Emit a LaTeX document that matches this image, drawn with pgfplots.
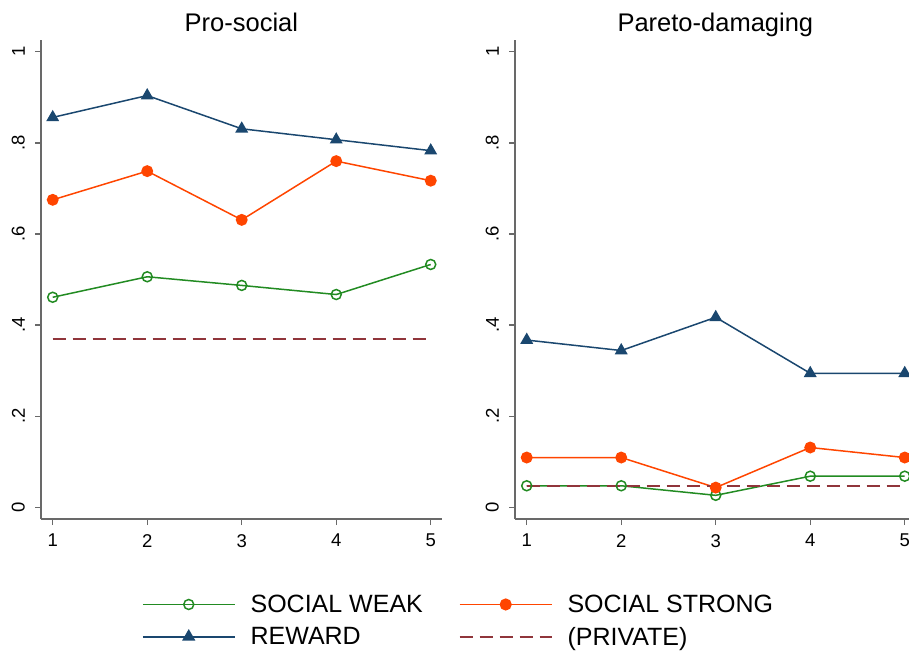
\documentclass[border=0pt]{standalone}
\usepackage{fontspec}
\setmainfont{Liberation Sans}
\usepackage{pgfplots}
\pgfplotsset{compat=1.18}
\definecolor{sgreen}{RGB}{34,139,34}
\definecolor{sorange}{RGB}{255,69,0}
\definecolor{snavy}{RGB}{26,71,111}
\definecolor{smaroon}{RGB}{144,53,59}
\definecolor{axgray}{RGB}{105,105,105}
\pgfplotsset{
 panel/.style={
  width=400.7pt,height=479pt,scale only axis,
  xmin=0.876,xmax=5.116,ymin=-0.026,ymax=1.026,
  axis x line*=bottom, axis y line*=left,
  axis line style={draw=axgray,line width=1.3pt,-},
  xtick={1,2,3,4,5}, xticklabels={1,2,3,4,5},
  ytick={0,0.2,0.4,0.6,0.8,1}, yticklabels={0,.2,.4,.6,.8,1},
  tick align=outside, major tick length=6pt,
  tick style={draw=axgray,line width=1.2pt},
  every tick label/.append style={font=\fontsize{18.5}{20}\selectfont},
  yticklabel style={xshift=-10pt,rotate=90,anchor=south,inner sep=0pt},
  xticklabel style={yshift=-9pt,anchor=north,inner sep=0pt},
  clip=false,
  title style={font=\fontsize{25.5}{30}\selectfont,anchor=base,at={(0.5,1)},yshift=2pt},
  legend image code/.code={\draw[mark repeat=2,mark phase=2,##1] plot coordinates {(0pt,0pt) (46pt,0pt) (92pt,0pt)};},
  legend image post style={line width=1.7pt},
 },
 weak/.style={sgreen,line width=1.5pt,mark=o,mark size=5pt,mark options={line width=1.5pt,fill=white,solid}},
 strong/.style={sorange,line width=1.5pt,mark=*,mark size=5.2pt},
 reward/.style={snavy,line width=1.5pt,mark=triangle*,mark size=6pt},
 private/.style={smaroon,line width=1.5pt,dash pattern=on 13pt off 7pt,no marks},
}
\begin{document}
\begin{tikzpicture}
\begin{axis}[panel, at={(41pt,-519pt)}, anchor=south west, title={Pro-social},
  legend style={at={(1.042,-0.2125)},anchor=center,draw=none,fill=none,
    legend columns=2,font=\fontsize{25}{30}\selectfont,row sep=9pt,
    /tikz/every odd column/.append style={column sep=13pt},
    /tikz/every even column/.append style={column sep=34pt}},
  legend cell align=left]
\addplot[weak] coordinates {(1,0.461)(2,0.506)(3,0.487)(4,0.467)(5,0.533)};
\addlegendentry{SOCIAL WEAK}
\addplot[strong] coordinates {(1,0.675)(2,0.738)(3,0.631)(4,0.760)(5,0.717)};
\addlegendentry{SOCIAL STRONG}
\addplot[reward] coordinates {(1,0.856)(2,0.904)(3,0.831)(4,0.807)(5,0.783)};
\addlegendentry{REWARD}
\addplot[private] coordinates {(1,0.369)(2,0.369)(3,0.369)(4,0.369)(5,0.369)};
\addlegendentry{(PRIVATE)}
\end{axis}
\begin{axis}[panel, at={(515pt,-519pt)}, anchor=south west, title={Pareto-damaging}]
\addplot[weak] coordinates {(1,0.047)(2,0.047)(3,0.026)(4,0.068)(5,0.068)};
\addplot[strong] coordinates {(1,0.109)(2,0.109)(3,0.043)(4,0.131)(5,0.109)};
\addplot[reward] coordinates {(1,0.367)(2,0.344)(3,0.417)(4,0.294)(5,0.294)};
\addplot[private] coordinates {(1,0.046)(2,0.046)(3,0.046)(4,0.046)(5,0.046)};
\end{axis}
\pgfresetboundingbox
\path[use as bounding box] (0pt,0pt) rectangle (909pt,-652pt);
\end{tikzpicture}
\end{document}
